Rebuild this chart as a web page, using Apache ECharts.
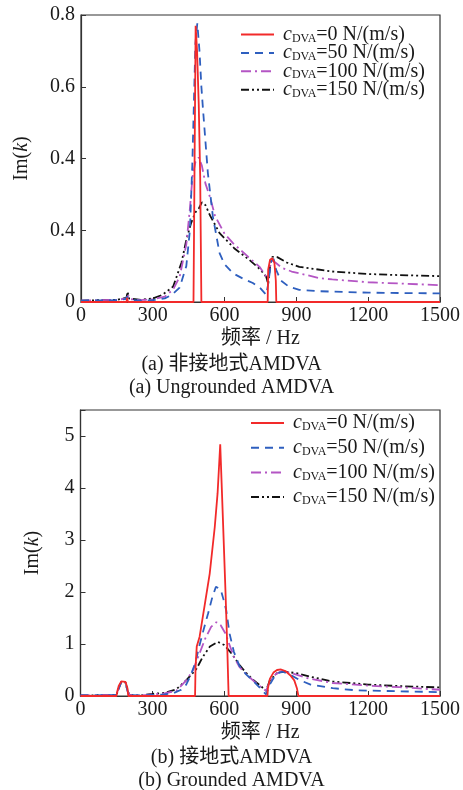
<!DOCTYPE html>
<html>
<head>
<meta charset="utf-8">
<script src="https://cdn.jsdelivr.net/npm/echarts@6/dist/echarts.min.js"></script>
<style>
html,body{margin:0;padding:0;background:#fff;}
#chart{width:463px;height:790px;}
</style>
</head>
<body>
<div id="chart"></div>
<script>
// ---------- data ----------
const seriesNames = ['c0', 'c50', 'c100', 'c150'];
const dampingValues = ['0', '50', '100', '150'];
const xTickValues = [0, 300, 600, 900, 1200, 1500];
const topYTickLabels = ['0', '0.4', '0.4', '0.6', '0.8'];
const bottomYTickLabels = ['0', '1', '2', '3', '4', '5'];

// (a) Ungrounded AMDVA
const topC0 = [[0,0],[190,0],[193,0.012],[196,0],[470,0],[476,0],[479,0.77],[485,0.7],[492,0.55],[498,0.35],[503,0],[780,0],[782,0.09],[790,0.118],[799,0.122],[808,0.11],[814,0.06],[816,0],[1500,0]];
const topC50 = [[0,0.004],[150,0.005],[185,0.008],[193,0.015],[200,0.006],[250,0.004],[300,0.005],[350,0.01],[380,0.02],[412,0.04],[440,0.1],[455,0.2],[465,0.38],[472,0.56],[478,0.72],[486,0.777],[495,0.7],[503,0.6],[510,0.535],[530,0.36],[551,0.238],[579,0.136],[600,0.105],[635,0.08],[680,0.064],[718,0.053],[750,0.038],[774,0.02],[782,0.05],[795,0.115],[805,0.12],[815,0.09],[835,0.06],[870,0.042],[912,0.034],[1000,0.03],[1200,0.026],[1500,0.024]];
const topC100 = [[0,0.004],[150,0.006],[190,0.01],[198,0.018],[205,0.008],[250,0.005],[300,0.008],[350,0.015],[385,0.035],[412,0.07],[440,0.16],[455,0.26],[466,0.35],[478,0.39],[492,0.403],[505,0.38],[520,0.33],[540,0.29],[560,0.24],[600,0.19],[635,0.164],[700,0.125],[746,0.098],[774,0.07],[780,0.06],[790,0.1],[800,0.115],[812,0.11],[840,0.095],[880,0.085],[912,0.08],[1000,0.066],[1050,0.063],[1200,0.055],[1500,0.047]];
const topC150 = [[0,0.004],[150,0.006],[190,0.012],[195,0.029],[200,0.01],[250,0.006],[300,0.01],[340,0.02],[385,0.043],[420,0.11],[440,0.173],[460,0.22],[478,0.25],[492,0.26],[505,0.278],[520,0.27],[540,0.24],[579,0.192],[640,0.15],[704,0.117],[750,0.09],[774,0.07],[782,0.05],[790,0.1],[800,0.126],[820,0.125],[860,0.11],[912,0.098],[1050,0.085],[1200,0.078],[1329,0.075],[1500,0.072]];

// (b) Grounded AMDVA
const botC0 = [[0,0],[150,0],[153,0.08],[160,0.2],[170,0.28],[178,0.31],[188,0.27],[196,0.15],[199,0],[478,0],[480,0.55],[485,0.95],[497,1.14],[520,1.8],[539,2.35],[560,3.24],[572,3.9],[583,4.84],[595,3.3],[605,2.0],[612,1.0],[618,0],[780,0],[782,0.15],[790,0.33],[805,0.45],[820,0.5],[837,0.51],[855,0.48],[875,0.4],[892,0.3],[903,0.15],[909,0],[1500,0]];
const botC50 = [[0,0.01],[150,0.02],[160,0.15],[170,0.27],[178,0.3],[188,0.26],[196,0.1],[205,0.02],[250,0.01],[300,0.02],[350,0.03],[386,0.05],[420,0.12],[441,0.22],[460,0.4],[480,0.65],[495,0.95],[515,1.3],[532,1.58],[550,1.9],[565,2.1],[573,2.13],[585,2.05],[600,1.8],[608,1.65],[622,1.2],[640,0.85],[663,0.58],[690,0.42],[718,0.3],[750,0.15],[774,0.03],[790,0.22],[810,0.38],[830,0.45],[844,0.47],[870,0.42],[913,0.31],[960,0.22],[1052,0.15],[1150,0.11],[1330,0.09],[1500,0.075]];
const botC100 = [[0,0.01],[150,0.02],[160,0.15],[170,0.27],[178,0.3],[188,0.26],[196,0.1],[205,0.02],[250,0.01],[300,0.03],[350,0.05],[400,0.1],[441,0.3],[470,0.5],[495,0.8],[520,1.1],[545,1.33],[567,1.42],[585,1.36],[605,1.2],[622,0.98],[640,0.75],[663,0.56],[700,0.38],[740,0.22],[774,0.1],[790,0.28],[815,0.42],[840,0.48],[880,0.44],[950,0.34],[1052,0.25],[1200,0.2],[1330,0.17],[1500,0.12]];
const botC150 = [[0,0.01],[150,0.02],[160,0.15],[170,0.27],[178,0.3],[188,0.26],[196,0.1],[205,0.02],[250,0.01],[300,0.04],[350,0.06],[400,0.13],[441,0.3],[470,0.45],[485,0.53],[510,0.75],[540,0.95],[573,1.04],[600,0.98],[630,0.82],[663,0.6],[690,0.45],[718,0.32],[750,0.2],[774,0.1],[790,0.3],[820,0.44],[850,0.47],[900,0.44],[960,0.37],[1052,0.28],[1200,0.22],[1330,0.19],[1500,0.165]];

// ---------- styling ----------
const FONT = '"Liberation Serif", "Times New Roman", "Noto Sans CJK SC", serif';
const styles = [
  {color:'#f22a2a', type:'solid', width:1.8},
  {color:'#2e5fbf', type:[8,6], width:1.8},
  {color:'#b455c4', type:[10,4,2,4], width:1.8},
  {color:'#111111', type:[8,3,2,3,2,3], width:1.8}
];
const topData = [topC0, topC50, topC100, topC150];
const botData = [botC0, botC50, botC100, botC150];

function mkSeries(data, idx, gi) {
  return {
    type:'line', name: seriesNames[idx], xAxisIndex: gi, yAxisIndex: gi,
    data: data, showSymbol:false, symbol:'none', smooth:false, animation:false,
    lineStyle: {color: styles[idx].color, type: styles[idx].type, width: styles[idx].width},
    itemStyle: {color: styles[idx].color}, z: 10 - idx
  };
}
const series = [];
topData.forEach((d,i)=>series.push(mkSeries(d,i,0)));
botData.forEach((d,i)=>series.push(mkSeries(d,i,1)));

const rich = {
  c: {fontFamily: FONT, fontSize: 20, fontStyle:'italic', color:'#1a1a1a', padding:[0,0,0,4], lineHeight:18},
  s: {fontFamily: FONT, fontSize: 12, color:'#1a1a1a', padding:[8,0,0,0], lineHeight:10},
  t: {fontFamily: FONT, fontSize: 20, color:'#1a1a1a', lineHeight:18}
};
function legendFmt(name){
  const i = seriesNames.indexOf(name);
  return '{c|c}{s|DVA}{t|=' + dampingValues[i] + ' N/(m/s)}';
}
function mkLegend(left, top, gap) {
  return {
    orient:'vertical', left:left, top:top, padding:0, itemWidth:33, itemHeight:10, itemGap:gap,
    data: seriesNames, formatter: legendFmt, selectedMode:false,
    itemStyle:{color:'transparent', borderWidth:0, opacity:0},
    textStyle:{rich: rich, fontFamily: FONT, fontSize:20, lineHeight:18}
  };
}

function mkXAxis(gi){
  return {
    type:'value', gridIndex: gi, min:0, max:1500, interval:300,
    axisLine:{show:true, lineStyle:{color:'#333', width:1.2}},
    axisTick:{show:true, inside:true, length:5, lineStyle:{color:'#333'}},
    splitLine:{show:false},
    axisLabel:{fontFamily:FONT, fontSize:20, color:'#1a1a1a', margin:4,
      formatter: v => xTickValues.indexOf(v) >= 0 ? String(v) : ''},
    name:'频率 / Hz', nameLocation:'middle', nameGap:27,
    nameTextStyle:{fontFamily:FONT, fontSize:20, color:'#1a1a1a'}
  };
}

const option = {
  backgroundColor:'#fff',
  animation:false,
  grid:[
    {left:81, right:22, top:15, height:287, show:true, borderColor:'#333', borderWidth:1.2},
    {left:80.5, right:22, top:410, height:286, show:true, borderColor:'#333', borderWidth:1.2}
  ],
  legend:[ mkLegend(240, 24.5, -1.6), mkLegend(250, 413, 4.7) ],
  xAxis:[ mkXAxis(0), mkXAxis(1) ],
  yAxis:[
    {type:'value', gridIndex:0, min:0, max:0.8, interval:0.2,
     axisLine:{show:true, lineStyle:{color:'#333', width:1.2}},
     axisTick:{show:true, inside:true, length:5, lineStyle:{color:'#333'}},
     splitLine:{show:false},
     axisLabel:{fontFamily:FONT, fontSize:20, color:'#1a1a1a', margin:6,
       formatter: v => topYTickLabels[Math.round(v/0.2)] || ''},
     name:'Im({i|k})', nameLocation:'middle', nameGap:49,
     nameTextStyle:{fontFamily:FONT, fontSize:20, color:'#1a1a1a', rich:{i:{fontFamily:FONT, fontSize:20, fontStyle:'italic', color:'#1a1a1a'}}}
    },
    {type:'value', gridIndex:1, min:0, max:5.5, interval:1,
     axisLine:{show:true, lineStyle:{color:'#333', width:1.2}},
     axisTick:{show:true, inside:true, length:5, lineStyle:{color:'#333'}},
     splitLine:{show:false},
     axisLabel:{fontFamily:FONT, fontSize:20, color:'#1a1a1a', margin:6,
       formatter: v => (v <= 5 && Math.abs(v - Math.round(v)) < 1e-6) ? bottomYTickLabels[Math.round(v)] : ''},
     name:'Im({i|k})', nameLocation:'middle', nameGap:38,
     nameTextStyle:{fontFamily:FONT, fontSize:20, color:'#1a1a1a', rich:{i:{fontFamily:FONT, fontSize:20, fontStyle:'italic', color:'#1a1a1a'}}}
    }
  ],
  graphic:[
    {type:'text', left:'center', top:355, style:{text:'(a) 非接地式AMDVA', font:'20px ' + FONT, fill:'#1a1a1a'}},
    {type:'text', left:'center', top:378, style:{text:'(a) Ungrounded AMDVA', font:'20px ' + FONT, fill:'#1a1a1a'}},
    {type:'text', left:'center', top:748, style:{text:'(b) 接地式AMDVA', font:'20px ' + FONT, fill:'#1a1a1a'}},
    {type:'text', left:'center', top:771, style:{text:'(b) Grounded AMDVA', font:'20px ' + FONT, fill:'#1a1a1a'}}
  ],
  series: series
};
const chart = echarts.init(document.getElementById('chart'), null, {renderer:'canvas'});
chart.setOption(option);
</script>
</body>
</html>
